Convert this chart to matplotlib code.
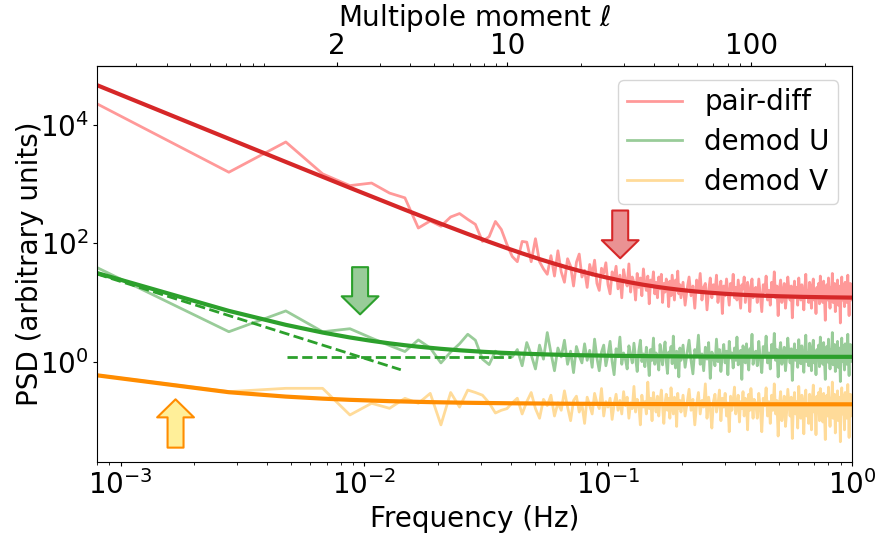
import numpy as np
import matplotlib
matplotlib.use("Agg")
import matplotlib.pyplot as plt
from matplotlib.colors import to_rgba
from matplotlib.ticker import FixedLocator, LogLocator, NullFormatter, NullLocator

# frequency grid of the PSD: f = f0 + n * df
f0, df = 8e-4, 1.98e-3
ell_per_hz = 259.0

names = ["pair-diff", "demod U", "demod V"]

# PSD values, n = 0..100
pairdiff_lo = [23000, 1600, 5200, 1500, 950, 1050, 710, 590, 182, 240,
               195, 280, 320, 255, 210, 108, 130, 235, 172, 96,
               60, 49, 108, 105, 49, 120, 49, 37, 30, 62,
               28, 75, 33, 22, 55, 41, 19, 48, 66, 27,
               35, 18, 44, 29, 52, 21, 16, 38, 31, 47,
               20, 14, 33, 26, 41, 17, 29, 12, 36, 24,
               19, 45, 15, 27, 22, 11, 31, 18, 26, 13,
               37, 21, 16, 28, 9.5, 24, 19, 33, 14, 22,
               12, 27, 17, 30, 10, 21, 15, 25, 19, 8.5,
               23, 13, 29, 18, 11, 24, 16, 34, 14, 20, 12]
demodU_lo = [39, 3.2, 7.2, 3.2, 3.6, 2.5, 1.87, 1.48, 2.33, 1.7,
             0.95, 1.45, 2.0, 2.9, 2.3, 1.1, 0.89, 1.5, 1.3, 1.35, 1.2,
             1.6, 0.85, 2.1, 1.3, 0.75, 1.9, 1.1, 3.1, 1.4, 0.7,
             1.7, 1.2, 2.3, 0.9, 1.5, 0.65, 1.8, 1.25, 0.95, 2.0,
             1.05, 1.55, 0.8, 2.4, 1.15, 0.7, 1.45, 1.9, 0.85, 1.3,
             2.2, 1.0, 0.6, 1.65, 1.2, 2.6, 0.9, 1.4, 1.1, 0.75,
             1.85, 1.3, 0.95, 2.05, 1.15, 0.68, 1.5, 2.3, 1.0, 1.35,
             0.82, 1.75, 1.2, 0.58, 1.6, 1.05, 2.5, 0.9, 1.4, 1.15,
             0.72, 1.95, 1.25, 0.88, 1.55, 2.15, 1.0, 0.63, 1.45, 1.2,
             1.8, 0.92, 2.7, 1.1, 0.78, 1.5, 1.3, 0.55, 1.7, 1.05]
demodV_lo = [0.59, 0.31, 0.353, 0.353, 0.125, 0.197, 0.162, 0.239, 0.197, 0.29,
             0.085, 0.3, 0.17, 0.33, 0.3, 0.27, 0.2, 0.135, 0.15, 0.16, 0.2,
             0.24, 0.13, 0.21, 0.3, 0.16, 0.11, 0.23, 0.18, 0.27, 0.12,
             0.2, 0.15, 0.32, 0.17, 0.1, 0.22, 0.26, 0.14, 0.19, 0.09,
             0.25, 0.18, 0.13, 0.29, 0.2, 0.16, 0.35, 0.12, 0.21, 0.17,
             0.24, 0.105, 0.19, 0.28, 0.15, 0.22, 0.13, 0.31, 0.18, 0.25,
             0.11, 0.2, 0.16, 0.38, 0.14, 0.23, 0.19, 0.085, 0.27, 0.17,
             0.21, 0.13, 0.45, 0.16, 0.24, 0.1, 0.3, 0.19, 0.14, 0.26,
             0.12, 0.22, 0.33, 0.17, 0.09, 0.2, 0.28, 0.15, 0.24, 0.11,
             0.36, 0.18, 0.13, 0.25, 0.2, 0.08, 0.29, 0.16, 0.22, 0.14]

# n = 102, 104, ..., 200
pairdiff_mid = [22, 9, 17, 27, 13, 19, 8, 24, 15, 31,
                11, 18, 21, 7.5, 16, 26, 12, 20, 14, 29,
                10, 17, 23, 6.5, 19, 13, 25, 15, 9, 21,
                16, 30, 12, 18, 11, 24, 14, 8, 20, 17,
                27, 10, 15, 22, 13, 7, 19, 25, 12, 16]
demodU_mid = [1.9, 0.8, 1.4, 2.3, 1.05, 0.62, 1.6, 1.2, 2.8, 0.9,
              1.35, 0.7, 1.75, 1.1, 2.1, 0.52, 1.45, 1.25, 0.85, 2.4,
              1.0, 1.6, 0.68, 1.3, 1.95, 0.95, 1.5, 0.6, 2.2, 1.15,
              1.4, 0.78, 1.7, 1.05, 2.6, 0.88, 1.3, 1.55, 0.5, 1.85,
              1.2, 0.95, 2.0, 1.1, 0.72, 1.65, 1.35, 2.9, 0.9, 1.25]
demodV_mid = [0.27, 0.12, 0.2, 0.34, 0.15, 0.23, 0.085, 0.19, 0.3, 0.13,
              0.22, 0.17, 0.42, 0.11, 0.25, 0.16, 0.075, 0.21, 0.28, 0.14,
              0.19, 0.33, 0.1, 0.24, 0.17, 0.29, 0.12, 0.2, 0.065, 0.26,
              0.15, 0.22, 0.37, 0.13, 0.18, 0.27, 0.095, 0.21, 0.16, 0.31,
              0.12, 0.24, 0.19, 0.07, 0.28, 0.15, 0.35, 0.2, 0.11, 0.23]

# n = 203, 206, ..., 503
pairdiff_hi = [18, 10, 25, 13, 7, 20, 15, 28, 11, 16,
               9, 22, 14, 33, 12, 19, 6, 17, 24, 10,
               15, 21, 8, 13, 27, 16, 11, 19, 5.5, 14,
               23, 12, 18, 9, 26, 15, 11, 20, 13, 7.5,
               17, 30, 12, 16, 10, 22, 14, 8, 19, 25,
               11, 15, 6.5, 18, 13, 21, 9.5, 28, 14, 17,
               10, 23, 12, 5, 16, 20, 11, 26, 13, 8,
               18, 15, 31, 10, 14, 21, 7, 17, 12, 24,
               9, 19, 14, 4.5, 16, 27, 11, 20, 13, 8.5,
               22, 15, 10, 18, 29, 12, 6, 17, 21, 11, 14]
demodU_hi = [1.5, 0.85, 2.2, 1.1, 0.65, 1.8, 1.3, 2.7, 0.95, 1.4,
             0.75, 1.95, 1.2, 3.0, 1.05, 1.6, 0.55, 1.45, 2.1, 0.9,
             1.3, 1.75, 0.7, 1.15, 2.5, 1.35, 0.95, 1.65, 0.48, 1.25,
             2.0, 1.05, 1.55, 0.8, 2.35, 1.3, 0.92, 1.85, 1.1, 0.66,
             1.5, 2.8, 1.0, 1.4, 0.85, 2.05, 1.2, 0.7, 1.7, 2.3,
             0.95, 1.35, 0.6, 1.6, 1.15, 1.9, 0.82, 2.6, 1.25, 1.5,
             0.9, 2.1, 1.05, 0.5, 1.45, 1.8, 0.98, 2.4, 1.2, 0.75,
             1.6, 1.3, 3.1, 0.88, 1.25, 1.95, 0.68, 1.55, 1.1, 2.2,
             0.8, 1.7, 1.3, 0.46, 1.45, 2.5, 1.0, 1.85, 1.15, 0.72,
             2.0, 1.35, 0.9, 1.6, 2.9, 1.05, 0.58, 1.5, 1.95, 1.0, 1.25]
demodV_hi = [0.2, 0.11, 0.29, 0.16, 0.065, 0.24, 0.18, 0.36, 0.12, 0.21,
             0.09, 0.27, 0.15, 0.42, 0.13, 0.22, 0.055, 0.19, 0.31, 0.1,
             0.17, 0.26, 0.08, 0.14, 0.34, 0.2, 0.12, 0.25, 0.05, 0.18,
             0.3, 0.13, 0.21, 0.075, 0.38, 0.16, 0.11, 0.27, 0.15, 0.06,
             0.23, 0.33, 0.12, 0.19, 0.09, 0.28, 0.17, 0.07, 0.24, 0.4,
             0.14, 0.2, 0.058, 0.26, 0.16, 0.3, 0.1, 0.35, 0.18, 0.22,
             0.095, 0.29, 0.13, 0.048, 0.21, 0.27, 0.12, 0.37, 0.17, 0.08,
             0.24, 0.19, 0.45, 0.11, 0.16, 0.28, 0.062, 0.2, 0.14, 0.32,
             0.1, 0.25, 0.18, 0.044, 0.22, 0.36, 0.13, 0.27, 0.15, 0.07,
             0.3, 0.19, 0.11, 0.24, 0.41, 0.16, 0.052, 0.21, 0.28, 0.12, 0.18]

# 1/f fit: white * (1 + (f_knee / f)**alpha)
fit_white = [11.8, 1.2, 0.189]
fit_knee = [0.112, 0.0096, 0.00168]
fit_alpha = [1.68, 1.3, 1.0]

# demod U components (dashed): frequency ranges
u_pl_range = [8e-4, 0.0141]
u_white_range = [0.0048, 0.040]

# arrows at the knee frequencies: (tail, tip) in PSD units
arrow_tail = [360, 39.6, 0.035]
arrow_tip = [56, 6.3, 0.23]

data_colors = ["red", "green", "orange"]
fit_colors = ["tab:red", "tab:green", "darkorange"]
arrow_faces = [to_rgba("tab:red", 0.5), to_rgba("green", 0.4), to_rgba("gold", 0.4)]

lo = [pairdiff_lo, demodU_lo, demodV_lo]
mid = [pairdiff_mid, demodU_mid, demodV_mid]
hi = [pairdiff_hi, demodU_hi, demodV_hi]

plt.rcParams["font.size"] = 20

fig = plt.figure(figsize=(8.77, 5.33), dpi=100)
ax = fig.add_subplot(111)
fig.subplots_adjust(left=0.1106, right=0.9715, top=0.876, bottom=0.1332)

handles = []
for i in range(3):
    n = np.concatenate([np.arange(len(lo[i])),
                        102 + 2 * np.arange(len(mid[i])),
                        203 + 3 * np.arange(len(hi[i]))])
    f = f0 + df * n
    psd = np.concatenate([lo[i], mid[i], hi[i]])
    h, = ax.plot(f, psd, color=data_colors[i], alpha=0.4, lw=2, label=names[i])
    handles.append(h)

for i in range(3):
    n = np.concatenate([np.arange(len(lo[i])),
                        102 + 2 * np.arange(len(mid[i])),
                        203 + 3 * np.arange(len(hi[i]))])
    f = f0 + df * n
    model = fit_white[i] * (1 + (fit_knee[i] / f) ** fit_alpha[i])
    ax.plot(f, model, color=fit_colors[i], lw=3)

# demod U: 1/f part and white part
fpl = np.array(u_pl_range)
ax.plot(fpl, fit_white[1] * (fit_knee[1] / fpl) ** fit_alpha[1],
        "--", color="tab:green", lw=2)
ax.plot(u_white_range, [fit_white[1]] * 2, "--", color="tab:green", lw=2)

for i in range(3):
    ax.annotate("", xy=(fit_knee[i], arrow_tip[i]),
                xytext=(fit_knee[i], arrow_tail[i]),
                arrowprops=dict(arrowstyle="simple,head_length=13,head_width=26.5,tail_width=11.5",
                                mutation_scale=1, fc=arrow_faces[i], ec=fit_colors[i],
                                lw=1.5, shrinkA=0, shrinkB=0),
                zorder=5)

ax.set_xscale("log")
ax.set_yscale("log")
ax.set_xlim(8e-4, 1)
ax.set_ylim(0.02, 1e5)
ax.yaxis.set_major_locator(FixedLocator([1, 1e2, 1e4]))
ax.yaxis.set_minor_locator(NullLocator())
ax.tick_params(axis="both", which="major", length=3, pad=3)
ax.set_xlabel("Frequency (Hz)", labelpad=3.5)
ax.set_ylabel("PSD (arbitrary units)", labelpad=-3)

ax.legend(handles=handles, loc="upper right", fontsize=20, handlelength=2,
          labelspacing=0.42, borderpad=0.3)

sec = ax.secondary_xaxis("top", functions=(lambda x: x * ell_per_hz,
                                           lambda l: l / ell_per_hz))
sec.set_xlabel(r"Multipole moment $\ell$", labelpad=4)
sec.xaxis.set_major_locator(FixedLocator([2, 10, 100]))
sec.set_xticklabels(["2", "10", "100"])
sec.xaxis.set_minor_locator(LogLocator(base=10, subs=np.arange(1, 10)))
sec.xaxis.set_minor_formatter(NullFormatter())
sec.tick_params(axis="x", which="major", length=3, pad=1.5)

fig.savefig("out.png", dpi=100)
